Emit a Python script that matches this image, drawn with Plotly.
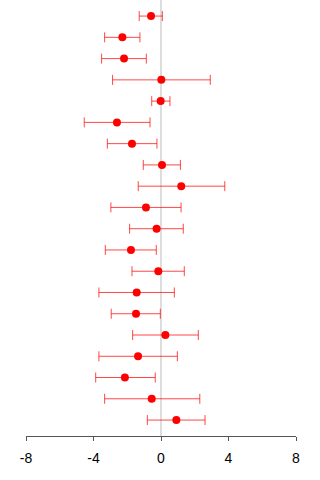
import plotly.graph_objects as go

# Estimates with lower / upper interval bounds, listed top to bottom
estimate = [-0.59, -2.29, -2.19, 0.02, -0.02, -2.61, -1.72, 0.06, 1.20, -0.89,
            -0.26, -1.78, -0.16, -1.44, -1.48, 0.26, -1.36, -2.14, -0.55, 0.91]
lower = [-1.29, -3.34, -3.52, -2.87, -0.55, -4.55, -3.18, -1.05, -1.35, -2.97,
         -1.86, -3.30, -1.72, -3.68, -2.95, -1.68, -3.68, -3.87, -3.34, -0.81]
upper = [0.08, -1.25, -0.87, 2.92, 0.53, -0.65, -0.24, 1.15, 3.78, 1.19,
         1.32, -0.28, 1.38, 0.79, -0.04, 2.21, 0.97, -0.34, 2.30, 2.61]

tick_vals = [-8, -4, 0, 4, 8]
tick_text = ["-8", "-4", "0", "4", "8"]

n = len(estimate)
rows = list(range(n, 0, -1))  # first entry at the top

fig = go.Figure()
fig.add_trace(go.Scatter(
    x=estimate,
    y=rows,
    mode="markers",
    marker=dict(color="#ff0000", size=8),
    error_x=dict(
        type="data",
        symmetric=False,
        array=[u - e for u, e in zip(upper, estimate)],
        arrayminus=[e - l for e, l in zip(estimate, lower)],
        color="rgba(255,0,0,0.72)",
        thickness=1,
        width=5,
    ),
    hoverinfo="x",
))

fig.update_layout(
    width=320,
    height=480,
    margin=dict(l=26, r=24, t=0, b=44),
    paper_bgcolor="white",
    plot_bgcolor="white",
    showlegend=False,
    font=dict(family="Liberation Sans, Arial, sans-serif", size=14, color="#000"),
)
fig.update_xaxes(
    range=[-8, 8],
    tickvals=tick_vals,
    ticktext=tick_text,
    showgrid=False,
    zeroline=True,
    zerolinecolor="#dddddd",
    zerolinewidth=2,
    showline=True,
    linecolor="#555555",
    linewidth=1,
    ticks="outside",
    ticklen=4,
    tickcolor="#555555",
    ticklabelstandoff=5,
    tickfont=dict(size=14, color="#000"),
)
fig.update_yaxes(
    range=[0.25, n + 0.756],
    showgrid=False,
    zeroline=False,
    showline=False,
    showticklabels=False,
    ticks="",
)

fig.write_html("out.html")
